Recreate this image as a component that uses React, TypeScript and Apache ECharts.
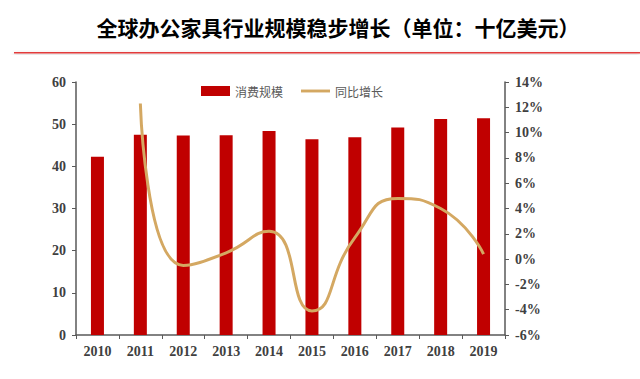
import React, { useEffect, useRef } from "react";
import * as echarts from "echarts";

const years = ["2010", "2011", "2012", "2013", "2014", "2015", "2016", "2017", "2018", "2019"];
const scale = [42.3, 47.5, 47.3, 47.4, 48.4, 46.4, 46.9, 49.2, 51.2, 51.4];
const growth = [null, 12.3, -0.5, 0.5, 2.2, -4.1, 1.7, 4.8, 4.0, 0.4];
const titleText = "全球办公家具行业规模稳步增长（单位：十亿美元）";
const serif = "'Liberation Serif', 'Times New Roman', serif";

export default function App() {
  const ref = useRef<HTMLDivElement>(null);
  useEffect(() => {
    const chart = echarts.init(ref.current!, null, { renderer: "svg" });
    chart.setOption({
      animation: false,
      backgroundColor: "#fff",
      title: {
        text: titleText,
        left: 333,
        textAlign: "center",
        top: 11,
        textStyle: { fontFamily: "'Noto Sans CJK SC'", fontWeight: "bold", fontSize: 21, color: "#000" },
      },
      graphic: [
        {
          type: "rect",
          shape: { x: 14, y: 52, width: 626, height: 1.5 },
          style: { fill: "#e23a3a", shadowBlur: 4, shadowColor: "rgba(0,0,0,0.35)", shadowOffsetY: 2 },
        },
      ],
      legend: {
        top: 80,
        left: 196,
        itemWidth: 29,
        itemHeight: 10,
        itemGap: 18,
        textStyle: { fontFamily: "'Noto Sans CJK SC'", fontSize: 12, color: "#595959" },
        data: [
          { name: "消费规模", icon: "rect" },
          { name: "同比增长", icon: "path://M0,4 L30,4 L30,7 L0,7 Z" },
        ],
      },
      grid: { left: 76, right: 135, top: 82, bottom: 44 },
      xAxis: {
        type: "category",
        data: years,
        axisLine: { lineStyle: { color: "#595959", width: 1.5 } },
        axisTick: { show: true, length: 4, lineStyle: { color: "#595959" } },
        axisLabel: { fontFamily: serif, fontWeight: "bold", fontSize: 14, color: "#404040", margin: 9 },
      },
      yAxis: [
        {
          type: "value",
          min: 0,
          max: 60,
          interval: 10,
          axisLine: { show: true, lineStyle: { color: "#595959", width: 1.5 } },
          axisTick: { show: true, length: 4, lineStyle: { color: "#595959" } },
          splitLine: { show: false },
          axisLabel: { fontFamily: serif, fontWeight: "bold", fontSize: 14, color: "#404040", margin: 10 },
        },
        {
          type: "value",
          min: -6,
          max: 14,
          interval: 2,
          position: "right",
          axisLine: { show: true, lineStyle: { color: "#595959", width: 1.5 } },
          axisTick: { show: true, length: 4, lineStyle: { color: "#595959" } },
          splitLine: { show: false },
          axisLabel: {
            fontFamily: serif,
            fontWeight: "bold",
            fontSize: 14,
            color: "#404040",
            margin: 10,
            formatter: (v: number) => v + "%",
          },
        },
      ],
      series: [
        {
          name: "消费规模",
          type: "bar",
          data: scale,
          barWidth: 13,
          itemStyle: { color: "#C00000" },
        },
        {
          name: "同比增长",
          type: "line",
          yAxisIndex: 1,
          data: growth,
          smooth: 0.55,
          showSymbol: false,
          symbol: "none",
          lineStyle: { color: "#D4A862", width: 3 },
          itemStyle: { color: "#D4A862" },
        },
      ],
    });
    return () => chart.dispose();
  }, []);
  return <div ref={ref} style={{ width: 640, height: 379, position: "absolute", left: 0, top: 0 }} />;
}
